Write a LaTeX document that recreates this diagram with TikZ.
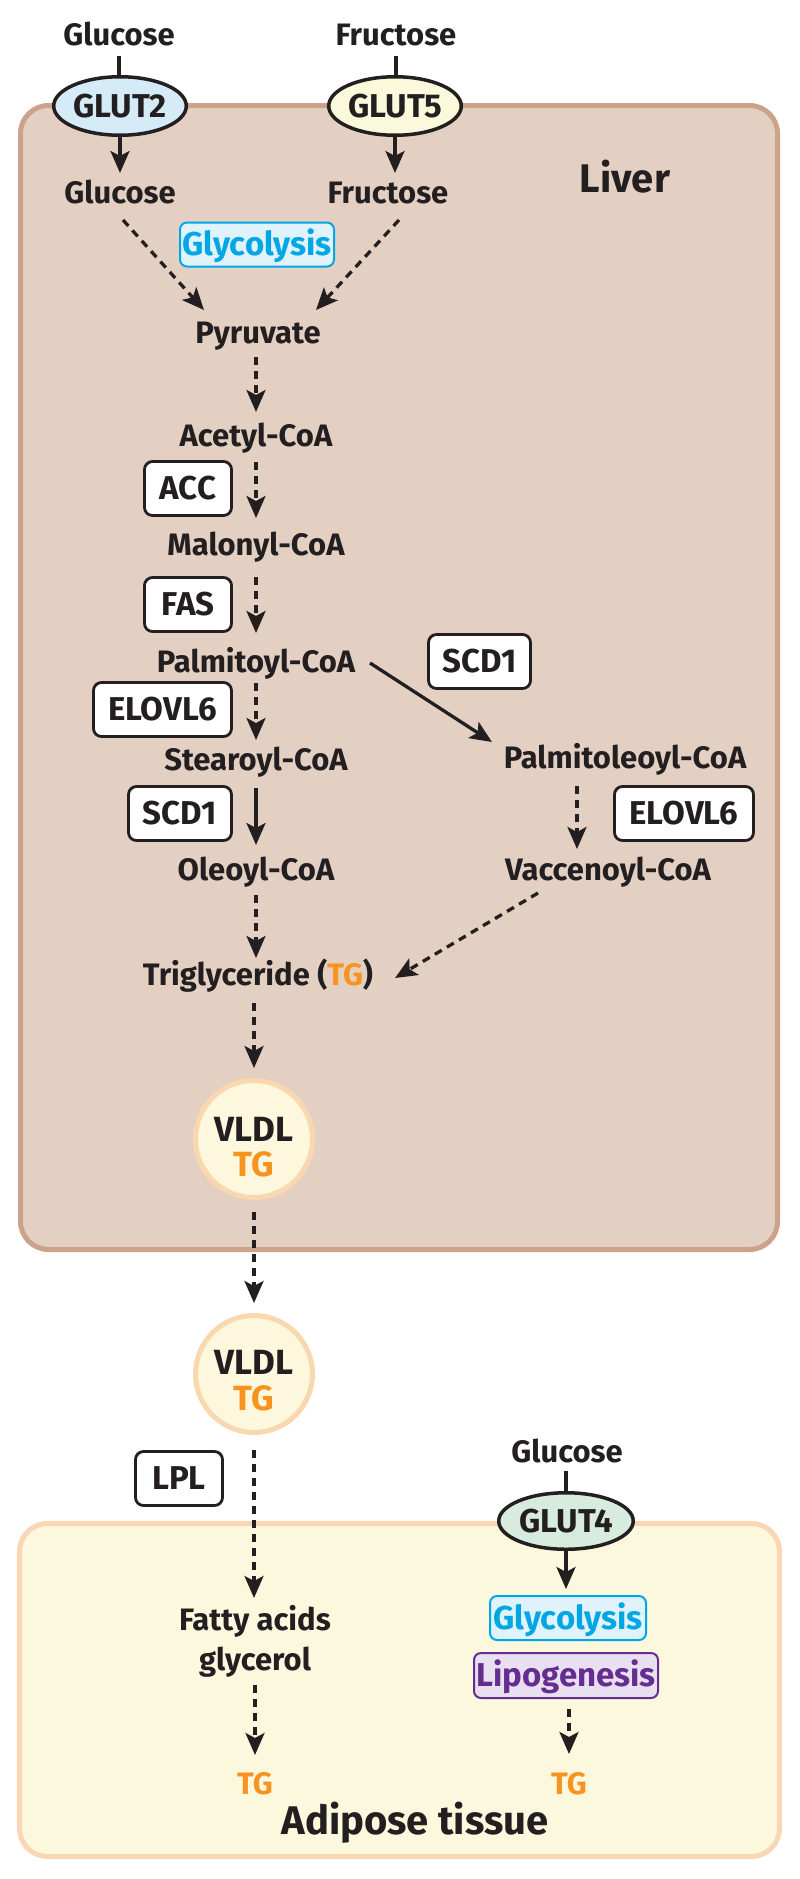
\documentclass[tikz,border=0pt]{standalone}
\usepackage{fontspec}
\setmainfont{Fira Sans}
\usetikzlibrary{arrows.meta,shapes.geometric}
\definecolor{liverfill}{RGB}{227,208,195}
\definecolor{liverline}{RGB}{205,162,138}
\definecolor{adifill}{RGB}{252,248,222}
\definecolor{adiline}{RGB}{249,214,180}
\definecolor{glyc}{RGB}{0,167,228}
\definecolor{glycfill}{RGB}{224,243,252}
\definecolor{lipo}{RGB}{102,45,145}
\definecolor{lipofill}{RGB}{232,224,240}
\definecolor{tgorange}{RGB}{247,147,30}
\definecolor{gtwofill}{RGB}{213,236,248}
\definecolor{gfivefill}{RGB}{251,249,219}
\definecolor{gfourfill}{RGB}{215,235,223}
\definecolor{vfill}{RGB}{252,247,221}
\definecolor{vline}{RGB}{249,216,176}
\definecolor{ink}{RGB}{35,31,32}
\newcommand{\lblfont}{\fontsize{31}{34}\selectfont\bfseries}
\newcommand{\boxfont}{\fontsize{33}{36}\selectfont\bfseries}
\newcommand{\glutfont}{\fontsize{33}{36}\selectfont\bfseries}
\newcommand{\vldlfont}{\fontsize{35}{38}\selectfont\bfseries}
\newcommand{\bigfont}{\fontsize{40}{46}\selectfont\bfseries}
\begin{document}
\begin{tikzpicture}[x=1pt,y=1pt,
  every node/.style={outer sep=0pt},
  lab/.style={font=\lblfont, text=ink, inner sep=0pt, text height=21pt, text depth=7pt, anchor=base},
  vlab/.style={lab, font=\vldlfont},
  big/.style={font=\bigfont, text=ink, inner sep=0pt, anchor=base},
  enz/.style={draw=ink, fill=white, line width=2.8pt, rounded corners=8pt, font=\boxfont, text=ink,
    inner sep=0pt, text height=22pt, text depth=0pt, minimum height=54pt},
  glycbox/.style={draw=glyc, fill=glycfill, text=glyc, line width=2pt, rounded corners=7pt, font=\boxfont,
    inner sep=0pt, text height=22pt, text depth=0pt, minimum width=154pt, minimum height=44pt},
  lipobox/.style={draw=lipo, fill=lipofill, text=lipo, line width=2pt, rounded corners=7pt, font=\boxfont,
    inner sep=0pt, text height=22pt, text depth=0pt, minimum width=184pt, minimum height=45pt},
  glut/.style={ellipse, draw=ink, line width=3.5pt, font=\glutfont, text=ink, inner sep=0pt,
    text height=22pt, text depth=0pt, minimum width=132.5pt, minimum height=58.5pt},
  vldl/.style={circle, fill=vfill, draw=vline, line width=5pt, minimum size=117pt, inner sep=0pt},
  sol/.style={draw=ink, line width=3.3pt, -{Stealth[length=22pt,width=19pt,inset=5pt]}},
  dsh/.style={sol, dash pattern=on 8pt off 6pt},
  plainline/.style={draw=ink, line width=3.3pt}
]
\useasboundingbox (0,0) rectangle (800,-1879);
% organ boxes
\draw[fill=liverfill, draw=liverline, line width=5pt, rounded corners=28pt] (20.5,-105.5) rectangle (777.5,-1249.5);
\draw[fill=adifill, draw=adiline, line width=5pt, rounded corners=28pt] (19.5,-1523.5) rectangle (779.5,-1856.5);
\node[big] (liver) at (625,-192) {Liver};
\node[big] (adi) at (415,-1834) {Adipose tissue};

% top entry
\node[lab] (glc0) at (119,-45) {Glucose};
\node[lab] (fru0) at (396,-45) {Fructose};
\node[glut, fill=gtwofill] (g2) at (120,-106) {GLUT2};
\node[glut, fill=gfivefill] (g5) at (395,-106) {GLUT5};
\node[lab] (glc1) at (120,-203) {Glucose};
\node[lab] (fru1) at (388,-203) {Fructose};
\node[glycbox] (glyc1) at (257,-244.5) {Glycolysis};

% main chain
\node[lab] (pyr) at (258,-343) {Pyruvate};
\node[lab] (ace) at (256,-446) {Acetyl-CoA};
\node[lab] (mal) at (256,-555) {Malonyl-CoA};
\node[lab] (pal) at (256,-672) {Palmitoyl-CoA};
\node[lab] (ste) at (256,-770) {Stearoyl-CoA};
\node[lab] (ole) at (256,-880) {Oleoyl-CoA};
\node[lab] (pleo) at (625,-768) {Palmitoleoyl-CoA};
\node[lab] (vac) at (608,-880) {Vaccenoyl-CoA};
\node[lab] (trig) at (258,-985) {Triglyceride (\textcolor{tgorange}{TG})};

% enzymes
\node[enz, minimum width=87pt] (acc) at (188,-488.5) {ACC};
\node[enz, minimum width=87pt] (fas) at (188,-604.5) {FAS};
\node[enz, minimum width=138pt] (elo1) at (162.5,-709.5) {ELOVL6};
\node[enz, minimum width=103pt] (scd1) at (180,-813.5) {SCD1};
\node[enz, minimum width=102pt] (scd2) at (479.5,-661.5) {SCD1};
\node[enz, minimum width=139pt] (elo2) at (684,-813.5) {ELOVL6};
\node[enz, minimum width=87pt] (lpl) at (179,-1478.5) {LPL};

% VLDL particles
\node[vldl] (v1) at (254,-1139) {};
\node[vlab] (v1a) at (254,-1141) {VLDL};
\node[vlab, text=tgorange] (v1b) at (254,-1176) {TG};
\node[vldl] (v2) at (254,-1374) {};
\node[vlab] (v2a) at (254,-1374) {VLDL};
\node[vlab, text=tgorange] (v2b) at (254,-1410) {TG};

% adipose
\node[lab] (fa) at (255,-1630) {Fatty acids};
\node[lab] (gly) at (255,-1670) {glycerol};
\node[lab, text=tgorange] (tgl) at (255,-1794) {TG};
\node[lab] (glc2) at (567,-1462) {Glucose};
\node[glut, fill=gfourfill, minimum width=134.5pt, minimum height=56.5pt] (g4) at (566,-1521) {GLUT4};
\node[glycbox, minimum width=156pt] (glyc2) at (568,-1618) {Glycolysis};
\node[lipobox] (lipo) at (566,-1675.5) {Lipogenesis};
\node[lab, text=tgorange] (tgr) at (569,-1794) {TG};

% connectors: entry
\draw[plainline, shorten <=4pt] (glc0.south) -- (glc0.south |- g2.north);
\draw[plainline, shorten <=4pt] (fru0.south) -- (fru0.south |- g5.north);
\draw[sol, shorten <=2pt, shorten >=9pt] (g2.south) -- (g2.south |- glc1.north);
\draw[sol, shorten <=2pt, shorten >=9pt] (g5.south) -- (g5.south |- fru1.north);
\draw[dsh] ([xshift=3pt,yshift=-10pt]glc1.south) -- ([xshift=-54pt,yshift=12pt]pyr.north);
\draw[dsh] ([xshift=11pt,yshift=-10pt]fru1.south) -- ([xshift=58pt,yshift=12pt]pyr.north);

% main chain
\draw[dsh, shorten <=7pt, shorten >=13pt] (pyr.south -| ace.south) -- (ace.north);
\draw[dsh, shorten <=9pt, shorten >=16pt] (ace.south) -- (mal.north);
\draw[dsh, shorten <=15pt, shorten >=18pt] (mal.south) -- (pal.north);
\draw[dsh, shorten <=4pt, shorten >=9pt] (pal.south) -- (ste.north);
\draw[sol, shorten <=11pt, shorten >=14pt] (ste.south) -- (ole.north);
\draw[dsh, shorten <=8pt, shorten >=6pt] (ole.south) -- (ole.south |- trig.north);
\draw[sol] ([xshift=114pt,yshift=9pt]pal.base) -- ([xshift=-133pt,yshift=5pt]pleo.north);
\draw[dsh, shorten <=11pt, shorten >=10pt] ([xshift=-48pt]pleo.south) -- ([xshift=-31pt]vac.north);
\draw[dsh] ([xshift=-70pt,yshift=-6pt]vac.south) -- ([xshift=137pt,yshift=7pt]trig.base);

% lipoprotein path
\draw[dsh, shorten <=11pt, shorten >=12.5pt] (trig.south -| v1.north) -- (v1.north);
\draw[dsh, shorten <=14.5pt, shorten >=12.5pt] (v1.south) -- (v2.north);
\draw[dsh, shorten <=17.5pt, shorten >=11pt] (v2.south) -- (v2.south |- fa.north);
\draw[dsh, shorten <=8pt, shorten >=18pt] (gly.south) -- (tgl.north);

% adipose glucose path
\draw[plainline, shorten <=2pt] (glc2.south -| g4.north) -- (g4.north);
\draw[sol, shorten <=1.5pt, shorten >=7pt] (g4.south) -- (g4.south |- glyc2.north);
\draw[dsh, shorten <=10.5pt, shorten >=19pt] (lipo.south -| tgr.north) -- (tgr.north);
\end{tikzpicture}
\end{document}
